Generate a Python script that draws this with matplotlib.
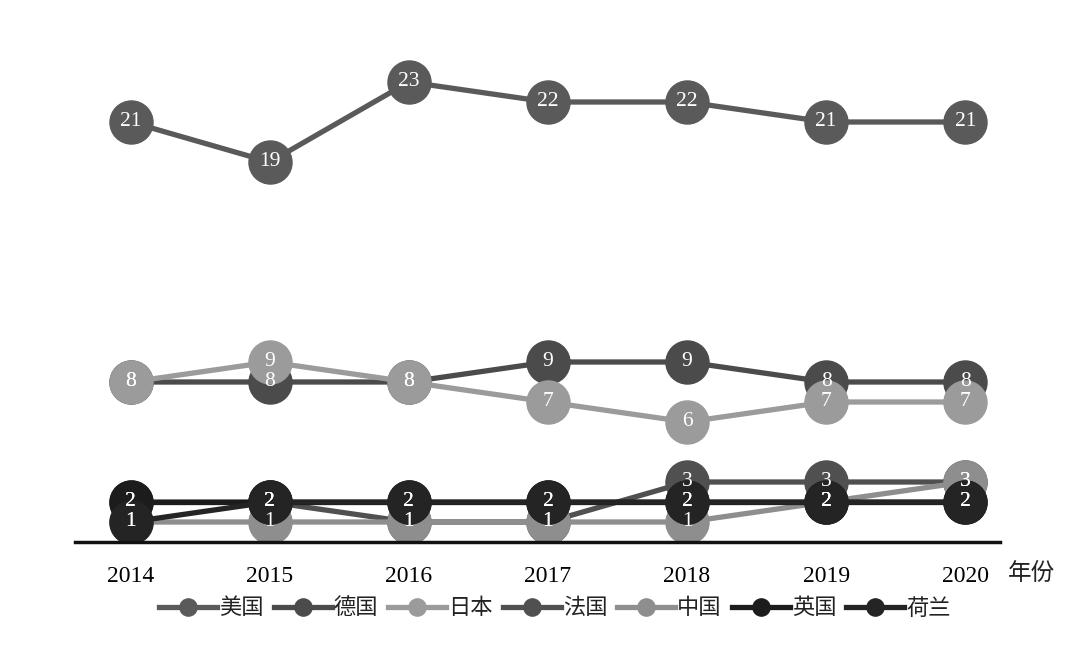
import matplotlib.pyplot as plt

# data
years = [2014, 2015, 2016, 2017, 2018, 2019, 2020]
countries = ['美国', '德国', '日本', '法国', '中国', '英国', '荷兰']
usa = [21, 19, 23, 22, 22, 21, 21]
germany = [8, 8, 8, 9, 9, 8, 8]
japan = [8, 9, 8, 7, 6, 7, 7]
france = [2, 2, 1, 1, 3, 3, 3]
china = [1, 1, 1, 1, 1, 2, 3]
uk = [2, 2, 2, 2, 2, 2, 2]
netherlands = [1, 2, 2, 2, 2, 2, 2]
series = [usa, germany, japan, france, china, uk, netherlands]
colors = ['#5a5a5a', '#4b4b4b', '#9b9b9b', '#505050', '#8e8e8e', '#1c1c1c', '#242424']

fig = plt.figure(figsize=(10.8, 6.5), dpi=100)
ax = fig.add_axes([75 / 1080, 108 / 650, 925 / 1080, 542 / 650])

for name, vals, c in zip(countries, series, colors):
    ax.plot(years, vals, color=c, lw=3.8, marker='o', ms=31, mfc=c, mec=c, label=name)
    for x, v in zip(years, vals):
        ax.text(x, v, str(v), color='white', ha='center', va='center',
                fontsize=15.5, family='Liberation Serif')

ax.set_xlim(2013.6, 2020.25)
ax.set_ylim(0, 27.1)
ax.set_yticks([])
ax.set_xticks(years)
ax.set_xticklabels([str(y) for y in years], family='Liberation Serif', fontsize=17)
ax.tick_params(axis='x', length=0, pad=17)
for s in ['top', 'right', 'left']:
    ax.spines[s].set_visible(False)
ax.spines['bottom'].set_linewidth(2.5)
ax.spines['bottom'].set_color('#111111')

fig.text(1008 / 1080, 1 - 573 / 650, '年份', fontsize=17, va='center', ha='left',
         family=['Noto Sans CJK SC', 'DejaVu Sans'], color='#222222')

handles, labels = ax.get_legend_handles_labels()
leg = fig.legend(handles, labels, loc='center', bbox_to_anchor=(555 / 1080, 1 - 608 / 650),
                 ncol=7, frameon=False, handlelength=2.6, handletextpad=0.1,
                 columnspacing=0.45, markerscale=0.4,
                 prop={'family': ['Noto Sans CJK SC', 'DejaVu Sans'], 'size': 16})
for t in leg.get_texts():
    t.set_color('#222222')

fig.savefig('out.png', dpi=100, facecolor='white')
